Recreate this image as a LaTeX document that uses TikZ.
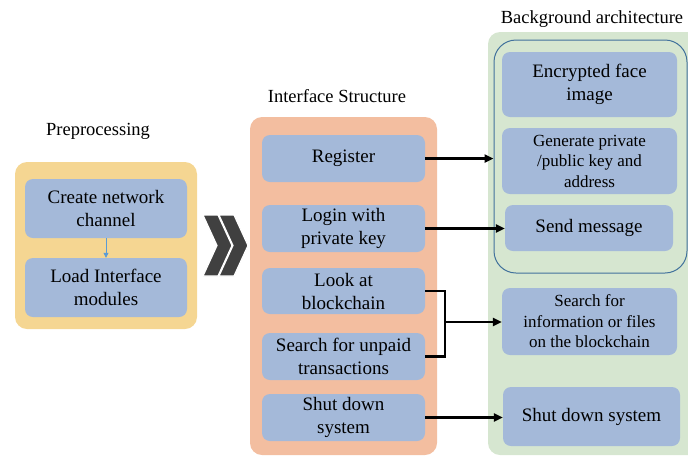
\documentclass[tikz,border=0pt]{standalone}
\usepackage{fontspec}
\setmainfont{Liberation Serif}
\usetikzlibrary{arrows.meta}
\definecolor{prefill}{RGB}{245,214,146}
\definecolor{uifill}{RGB}{243,190,160}
\definecolor{backfill}{RGB}{214,230,208}
\definecolor{boxfill}{RGB}{164,185,217}
\definecolor{ringblue}{RGB}{65,113,156}
\definecolor{flowblue}{RGB}{91,155,213}
\definecolor{chevgray}{RGB}{64,64,64}

\begin{document}
\begin{tikzpicture}[x=1pt, y=-1pt,
    panel/.style={rounded corners=12pt},
    box/.style={fill=boxfill, rounded corners=8pt, align=center, inner sep=0pt,
                font=\fontsize{19}{23}\selectfont},
    small/.style={font=\fontsize{17}{20.5}\selectfont},
    title/.style={font=\fontsize{18.5}{22}\selectfont},
    link/.style={line width=2.4pt, -{Triangle[length=9pt,width=8pt]}},
    fork/.style={line width=2.4pt, line join=miter}]
  % A chevron: #1 = x-coordinate of its left edge.
  \newcommand{\chevron}[1]{%
    \filldraw[chevgray, draw=white, line width=1.2pt]
      (#1,215) -- ++(15,0) -- ++(14,30.5) -- ++(-14,30.5) -- ++(-15,0) -- ++(14,-30.5) -- cycle;}

  \useasboundingbox (0,0) rectangle (688,456);

  % the three panels
  \fill[prefill, panel] (15,162) rectangle (197,329);
  \fill[uifill, panel] (250,117) rectangle (437,455);
  \fill[backfill, panel] (488,32) rectangle (710,455);
  \node[title] (pretitle) at (98,131) {Preprocessing};
  \node[title] (uititle) at (337,96) {Interface Structure};
  \node[title] (backtitle) at (592,19) {Background architecture};

  % preprocessing
  \node[box, minimum width=162pt, minimum height=59pt] (create) at (106,208.5) {Create network\\channel};
  \node[box, minimum width=162pt, minimum height=59pt] (load) at (106,287.5) {Load Interface\\modules};
  \draw[flowblue, line width=0.8pt, -{Triangle[length=5pt,width=5pt]}] (create) -- (load);

  \chevron{203}
  \chevron{219}

  % interface structure
  \node[box, minimum width=163pt, minimum height=47pt] (register) at (343.5,158.5) {Register};
  \node[box, minimum width=163pt, minimum height=47pt] (login) at (343.5,228.5) {Login with\\private key};
  \node[box, minimum width=163pt, minimum height=46pt] (look) at (343.5,291) {Look at\\blockchain};
  \node[box, minimum width=163pt, minimum height=47pt] (unpaid) at (343.5,356.5) {Search for unpaid\\transactions};
  \node[box, minimum width=163pt, minimum height=47pt] (shutdown) at (343.5,417.5) {Shut down\\system};

  % background architecture
  \node[draw=ringblue, line width=1pt, rounded corners=22pt, inner sep=0pt,
        minimum width=193pt, minimum height=233pt] (ring) at (590.5,156.5) {};
  \node[box, minimum width=175pt, minimum height=65pt] (face) at (589.5,84.5) {Encrypted face\\image};
  \node[box, small, minimum width=175pt, minimum height=66pt] (keys) at (589.5,161) {Generate private\\/public key and\\address};
  \node[box, minimum width=168pt, minimum height=46pt] (send) at (589,228) {Send message};
  \node[box, small, minimum width=175pt, minimum height=67pt] (search) at (589.5,321.5) {Search for\\information or files\\on the blockchain};
  \node[box, minimum width=177pt, minimum height=59pt] (halt) at (591.5,416.5) {Shut down system};

  % connections
  \coordinate (join) at (445,322);
  \draw[link] (register.east) -- (register.east -| ring.west);
  \draw[link] (login.east) -- (login.east -| send.west);
  \draw[fork] (look.east) -| (join) |- (unpaid.east);
  \draw[link] (join) -- (join -| search.west);
  \draw[link] (shutdown.east) -- (shutdown.east -| halt.west);
\end{tikzpicture}
\end{document}
